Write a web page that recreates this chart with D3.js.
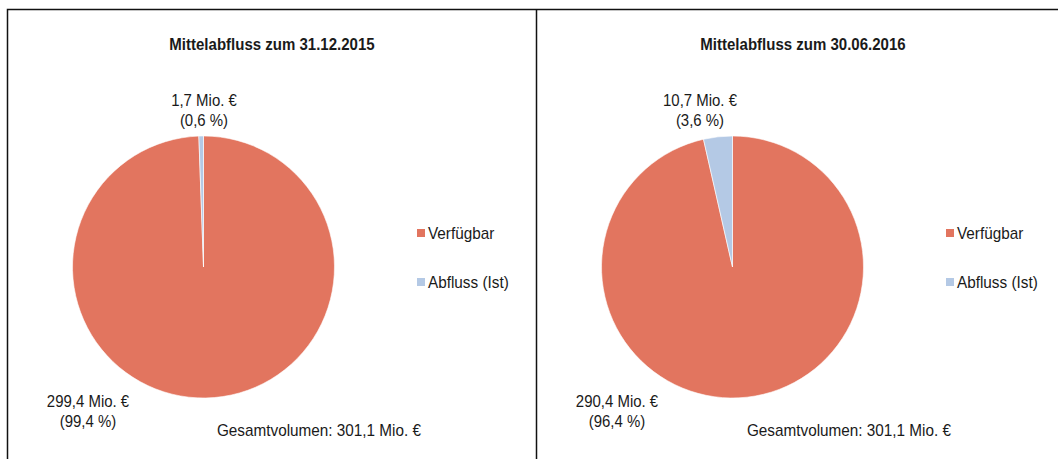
<!DOCTYPE html>
<html><head><meta charset="utf-8">
<script src="https://cdn.jsdelivr.net/npm/d3@7"></script>
<style>
html,body{margin:0;padding:0;background:#fff;}
svg{display:block;}
text{font-family:"Liberation Sans",Arial,sans-serif;fill:#1a1a1a;}
</style></head>
<body>
<svg id="c" width="1058" height="459"></svg>
<script>
const categories = ["Verfügbar", "Abfluss (Ist)"];
const titles = ["Mittelabfluss zum 31.12.2015", "Mittelabfluss zum 30.06.2016"];
const valuesDec2015 = [299.4, 1.7];
const valuesJun2016 = [290.4, 10.7];
const percentDec2015 = ["99,4 %", "0,6 %"];
const percentJun2016 = ["96,4 %", "3,6 %"];
const amountDec2015 = ["299,4 Mio. €", "1,7 Mio. €"];
const amountJun2016 = ["290,4 Mio. €", "10,7 Mio. €"];
const totalLabel = "Gesamtvolumen: 301,1 Mio. €";
const colors = ["#E2755F", "#B4C9E5"];

const svg = d3.select("#c");
const color = d3.scaleOrdinal().domain(categories).range(colors);

// condensed text helper
function ctext(g, x, y, t, size, anchor, f, bold){
  const el = g.append("text").attr("x",x).attr("y",y).attr("text-anchor",anchor)
    .attr("font-size",size).text(t);
  if (bold) el.attr("font-weight","bold");
  const w = el.node().getComputedTextLength();
  el.attr("textLength", w*f).attr("lengthAdjust","spacingAndGlyphs");
  return el;
}

// frame
svg.append("path").attr("d","M7.5,459 V9.5 H1058").attr("fill","none").attr("stroke","#111").attr("stroke-width",1.5);
svg.append("line").attr("x1",536.5).attr("x2",536.5).attr("y1",9.5).attr("y2",459).attr("stroke","#111").attr("stroke-width",1.5);

const panels = [
  {values:valuesDec2015, pct:percentDec2015, amt:amountDec2015, title:titles[0],
   cx:203.5, cy:267, r:131, titleX:272, smallX:204, bigX:88, totX:319, legX:417},
  {values:valuesJun2016, pct:percentJun2016, amt:amountJun2016, title:titles[1],
   cx:732.5, cy:267, r:131, titleX:803, smallX:700, bigX:617, totX:849, legX:946}
];

const pie = d3.pie().sort(null).value(d => d.v);
panels.forEach(p => {
  const g = svg.append("g");
  ctext(g, p.titleX, 50, p.title, 16.5, "middle", 0.91, true);
  const data = categories.map((c,i)=>({c, v:p.values[i]}));
  const arc = d3.arc().innerRadius(0).outerRadius(p.r);
  const pg = g.append("g").attr("transform",`translate(${p.cx},${p.cy})`);
  pg.selectAll("path").data(pie(data)).join("path")
    .attr("d",arc).attr("fill",d=>color(d.data.c))
    .attr("stroke","#fff").attr("stroke-width",0.6);
  const lab = (x,y,lines)=>{
    lines.forEach((t,i)=>ctext(g, x, y+i*20, t, 17, "middle", 0.88, false));
  };
  lab(p.smallX,106,[p.amt[1],"("+p.pct[1]+")"]);
  lab(p.bigX,407,[p.amt[0],"("+p.pct[0]+")"]);
  ctext(g, p.totX, 436, totalLabel, 17, "middle", 0.9, false);
  categories.forEach((c,i)=>{
    const y = 233 + i*49;
    g.append("rect").attr("x",p.legX).attr("y",y-4).attr("width",8).attr("height",8).attr("fill",color(c));
    ctext(g, p.legX+11, y+6, c, 17, "start", 0.9, false);
  });
});
</script>
</body></html>
